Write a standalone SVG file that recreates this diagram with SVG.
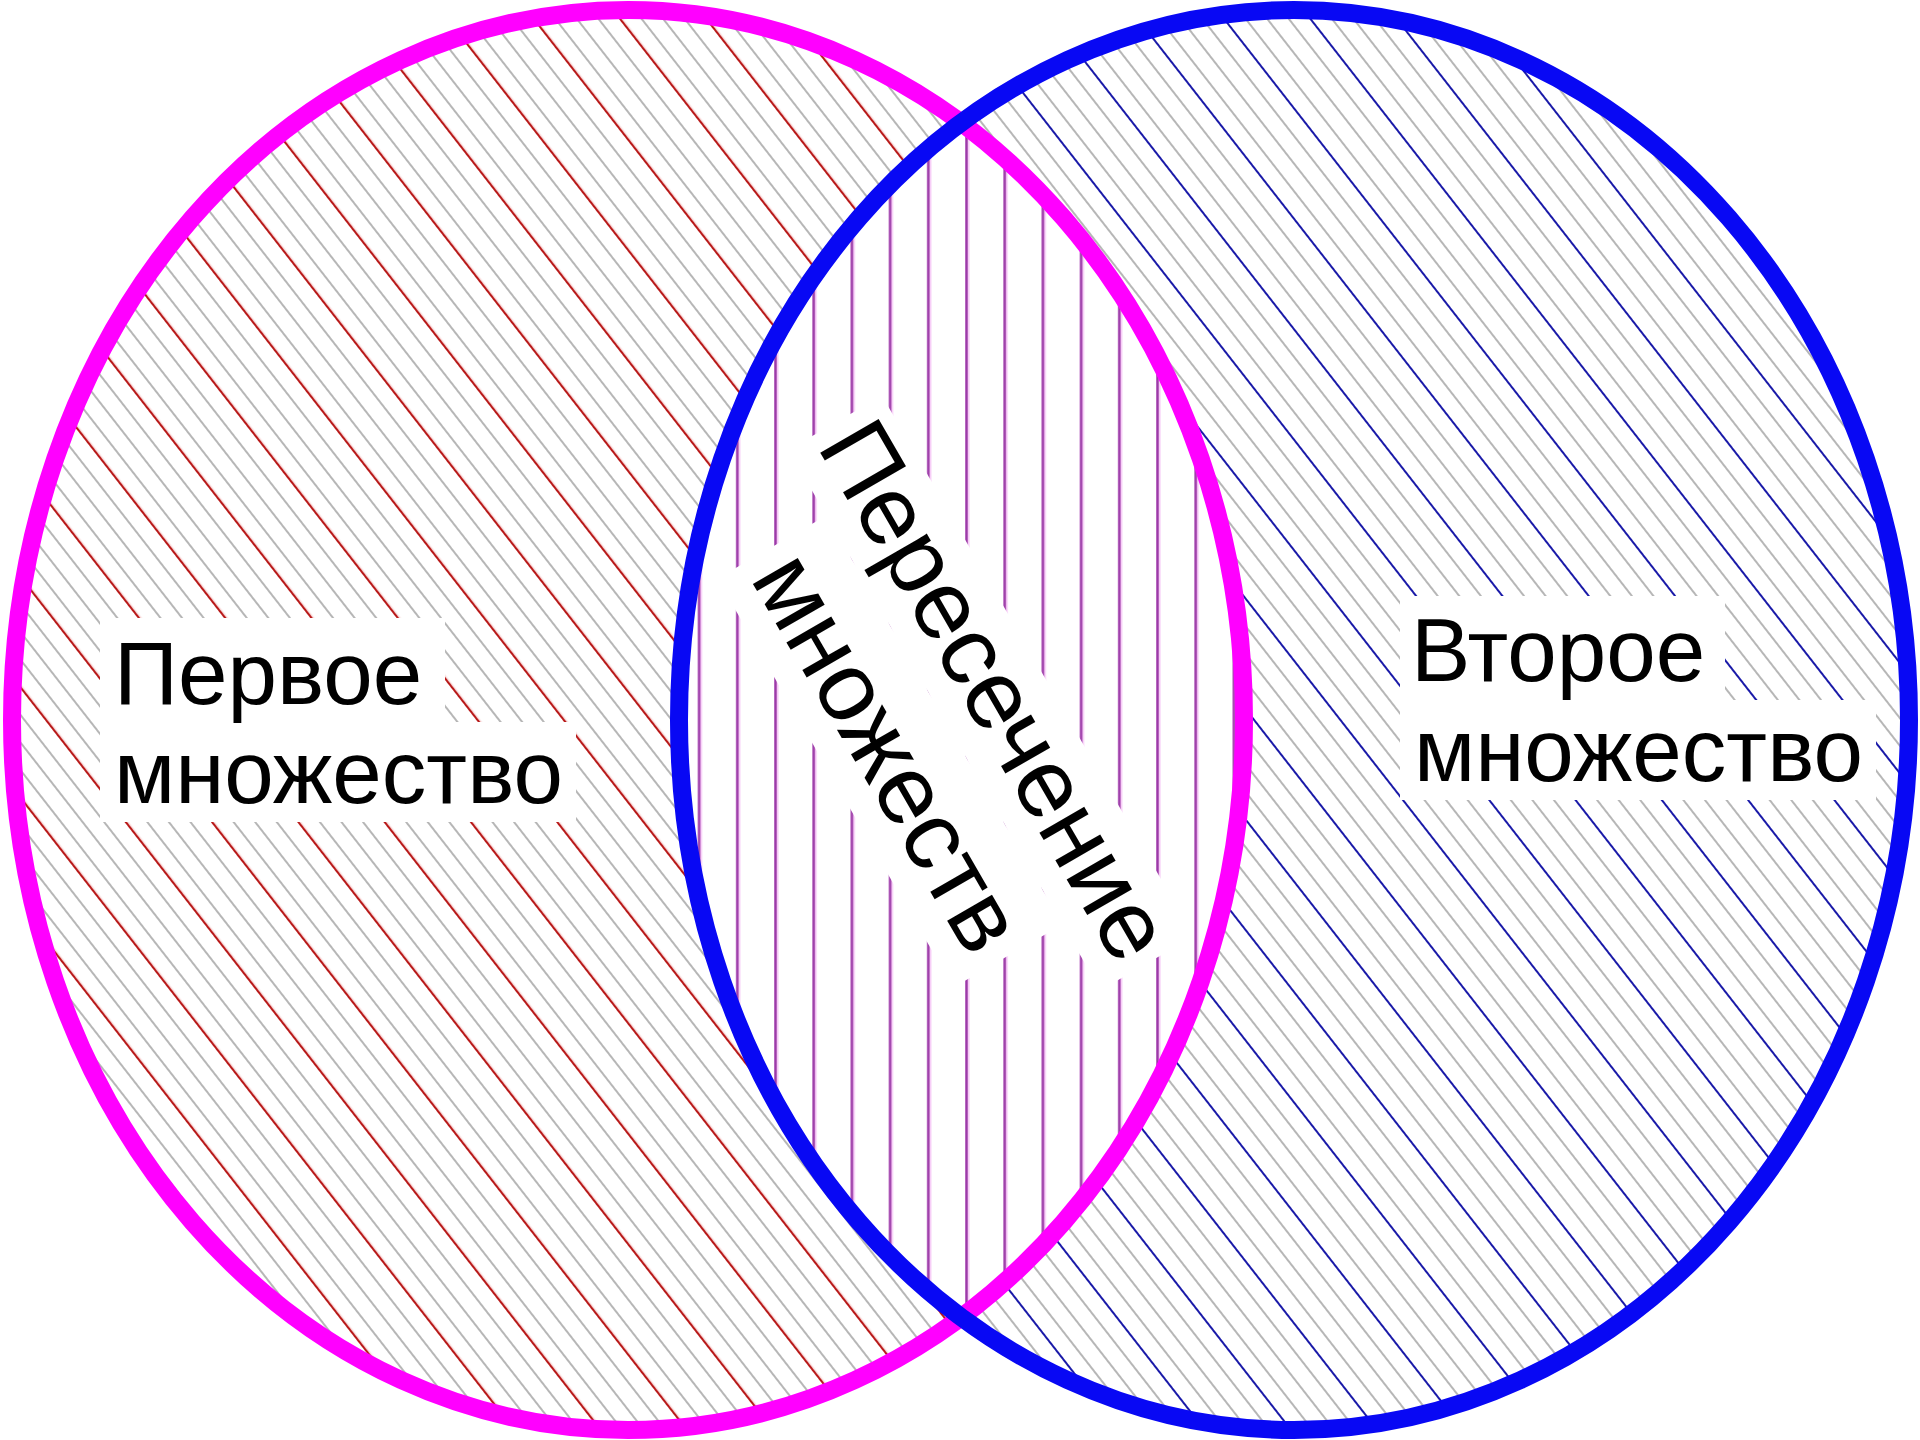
<svg xmlns="http://www.w3.org/2000/svg" width="1920" height="1440" viewBox="0 0 1920 1440">
  <style>
    .lbl { font-family: "Liberation Sans", Arial, sans-serif; font-size: 89px; fill: #000; }
    .mid { font-family: "Liberation Sans", Arial, sans-serif; font-size: 98px; fill: #000; text-anchor: middle; }
    .box { fill: #fff; }
    .gray { stroke: #7a7a7a; stroke-width: 1.1; }
  </style>
  <defs>
    <clipPath id="cL"><ellipse cx="628" cy="720" rx="616" ry="710"/></clipPath>
    <clipPath id="cR"><ellipse cx="1294" cy="720" rx="615" ry="710"/></clipPath>
    <pattern id="hatchL" patternUnits="userSpaceOnUse" width="68" height="40" patternTransform="rotate(-38)">
      <line x1="1" y1="-1" x2="1" y2="41" stroke="#f6d0d0" stroke-width="4.5"/>
      <line x1="1" y1="-1" x2="1" y2="41" stroke="#b81a1a" stroke-width="2"/>
      <line class="gray" x1="18" y1="-1" x2="18" y2="41"/>
      <line class="gray" x1="35" y1="-1" x2="35" y2="41"/>
      <line class="gray" x1="52" y1="-1" x2="52" y2="41"/>
    </pattern>
    <pattern id="hatchR" patternUnits="userSpaceOnUse" width="68" height="40" patternTransform="rotate(-38)">
      <line x1="1" y1="-1" x2="1" y2="41" stroke="#1a1aa8" stroke-width="2"/>
      <line class="gray" x1="18" y1="-1" x2="18" y2="41"/>
      <line class="gray" x1="35" y1="-1" x2="35" y2="41"/>
      <line class="gray" x1="52" y1="-1" x2="52" y2="41"/>
    </pattern>
    <pattern id="vert" patternUnits="userSpaceOnUse" x="774" y="0" width="38.2" height="40">
      <line x1="1.5" y1="-1" x2="1.5" y2="41" stroke="#f6c8f6" stroke-width="6"/>
      <line x1="1.5" y1="-1" x2="1.5" y2="41" stroke="#9a3aa6" stroke-width="2.4"/>
    </pattern>
  </defs>

  <rect width="1920" height="1440" fill="#fff"/>

  <g id="set-first-fill">
    <ellipse cx="628" cy="720" rx="616" ry="710" fill="url(#hatchL)"/>
  </g>
  <g id="set-second-fill">
    <ellipse cx="1294" cy="720" rx="615" ry="710" fill="url(#hatchR)"/>
  </g>
  <g id="intersection" clip-path="url(#cL)">
    <g clip-path="url(#cR)">
      <rect x="600" y="0" width="720" height="1440" fill="#fff"/>
      <rect x="600" y="0" width="720" height="1440" fill="url(#vert)"/>
    </g>
  </g>

  <g id="set-first">
    <ellipse cx="628" cy="720" rx="616" ry="710" fill="none" stroke="#ff00ff" stroke-width="18"/>
  </g>
  <g id="set-second">
    <ellipse cx="1294" cy="720" rx="615" ry="710" fill="none" stroke="#0808f4" stroke-width="18"/>
  </g>

  <g id="label-first">
    <rect class="box" x="100" y="618" width="345" height="104"/>
    <rect class="box" x="100" y="722" width="476" height="100"/>
    <text class="lbl" x="114" y="704">Первое</text>
    <text class="lbl" x="114" y="803">множество</text>
  </g>
  <g id="label-second">
    <rect class="box" x="1400" y="596" width="325" height="104"/>
    <rect class="box" x="1400" y="700" width="476" height="100"/>
    <text class="lbl" x="1411" y="681">Второе</text>
    <text class="lbl" x="1414" y="781">множество</text>
  </g>
  <g id="label-intersection" transform="translate(967,707) rotate(60)">
    <rect class="box" x="-312" y="-82" width="624" height="108"/>
    <rect class="box" x="-236" y="26" width="472" height="126"/>
    <text class="mid" x="0" y="0">Пересечение</text>
    <text class="mid" x="0" y="124">множеств</text>
  </g>
</svg>
